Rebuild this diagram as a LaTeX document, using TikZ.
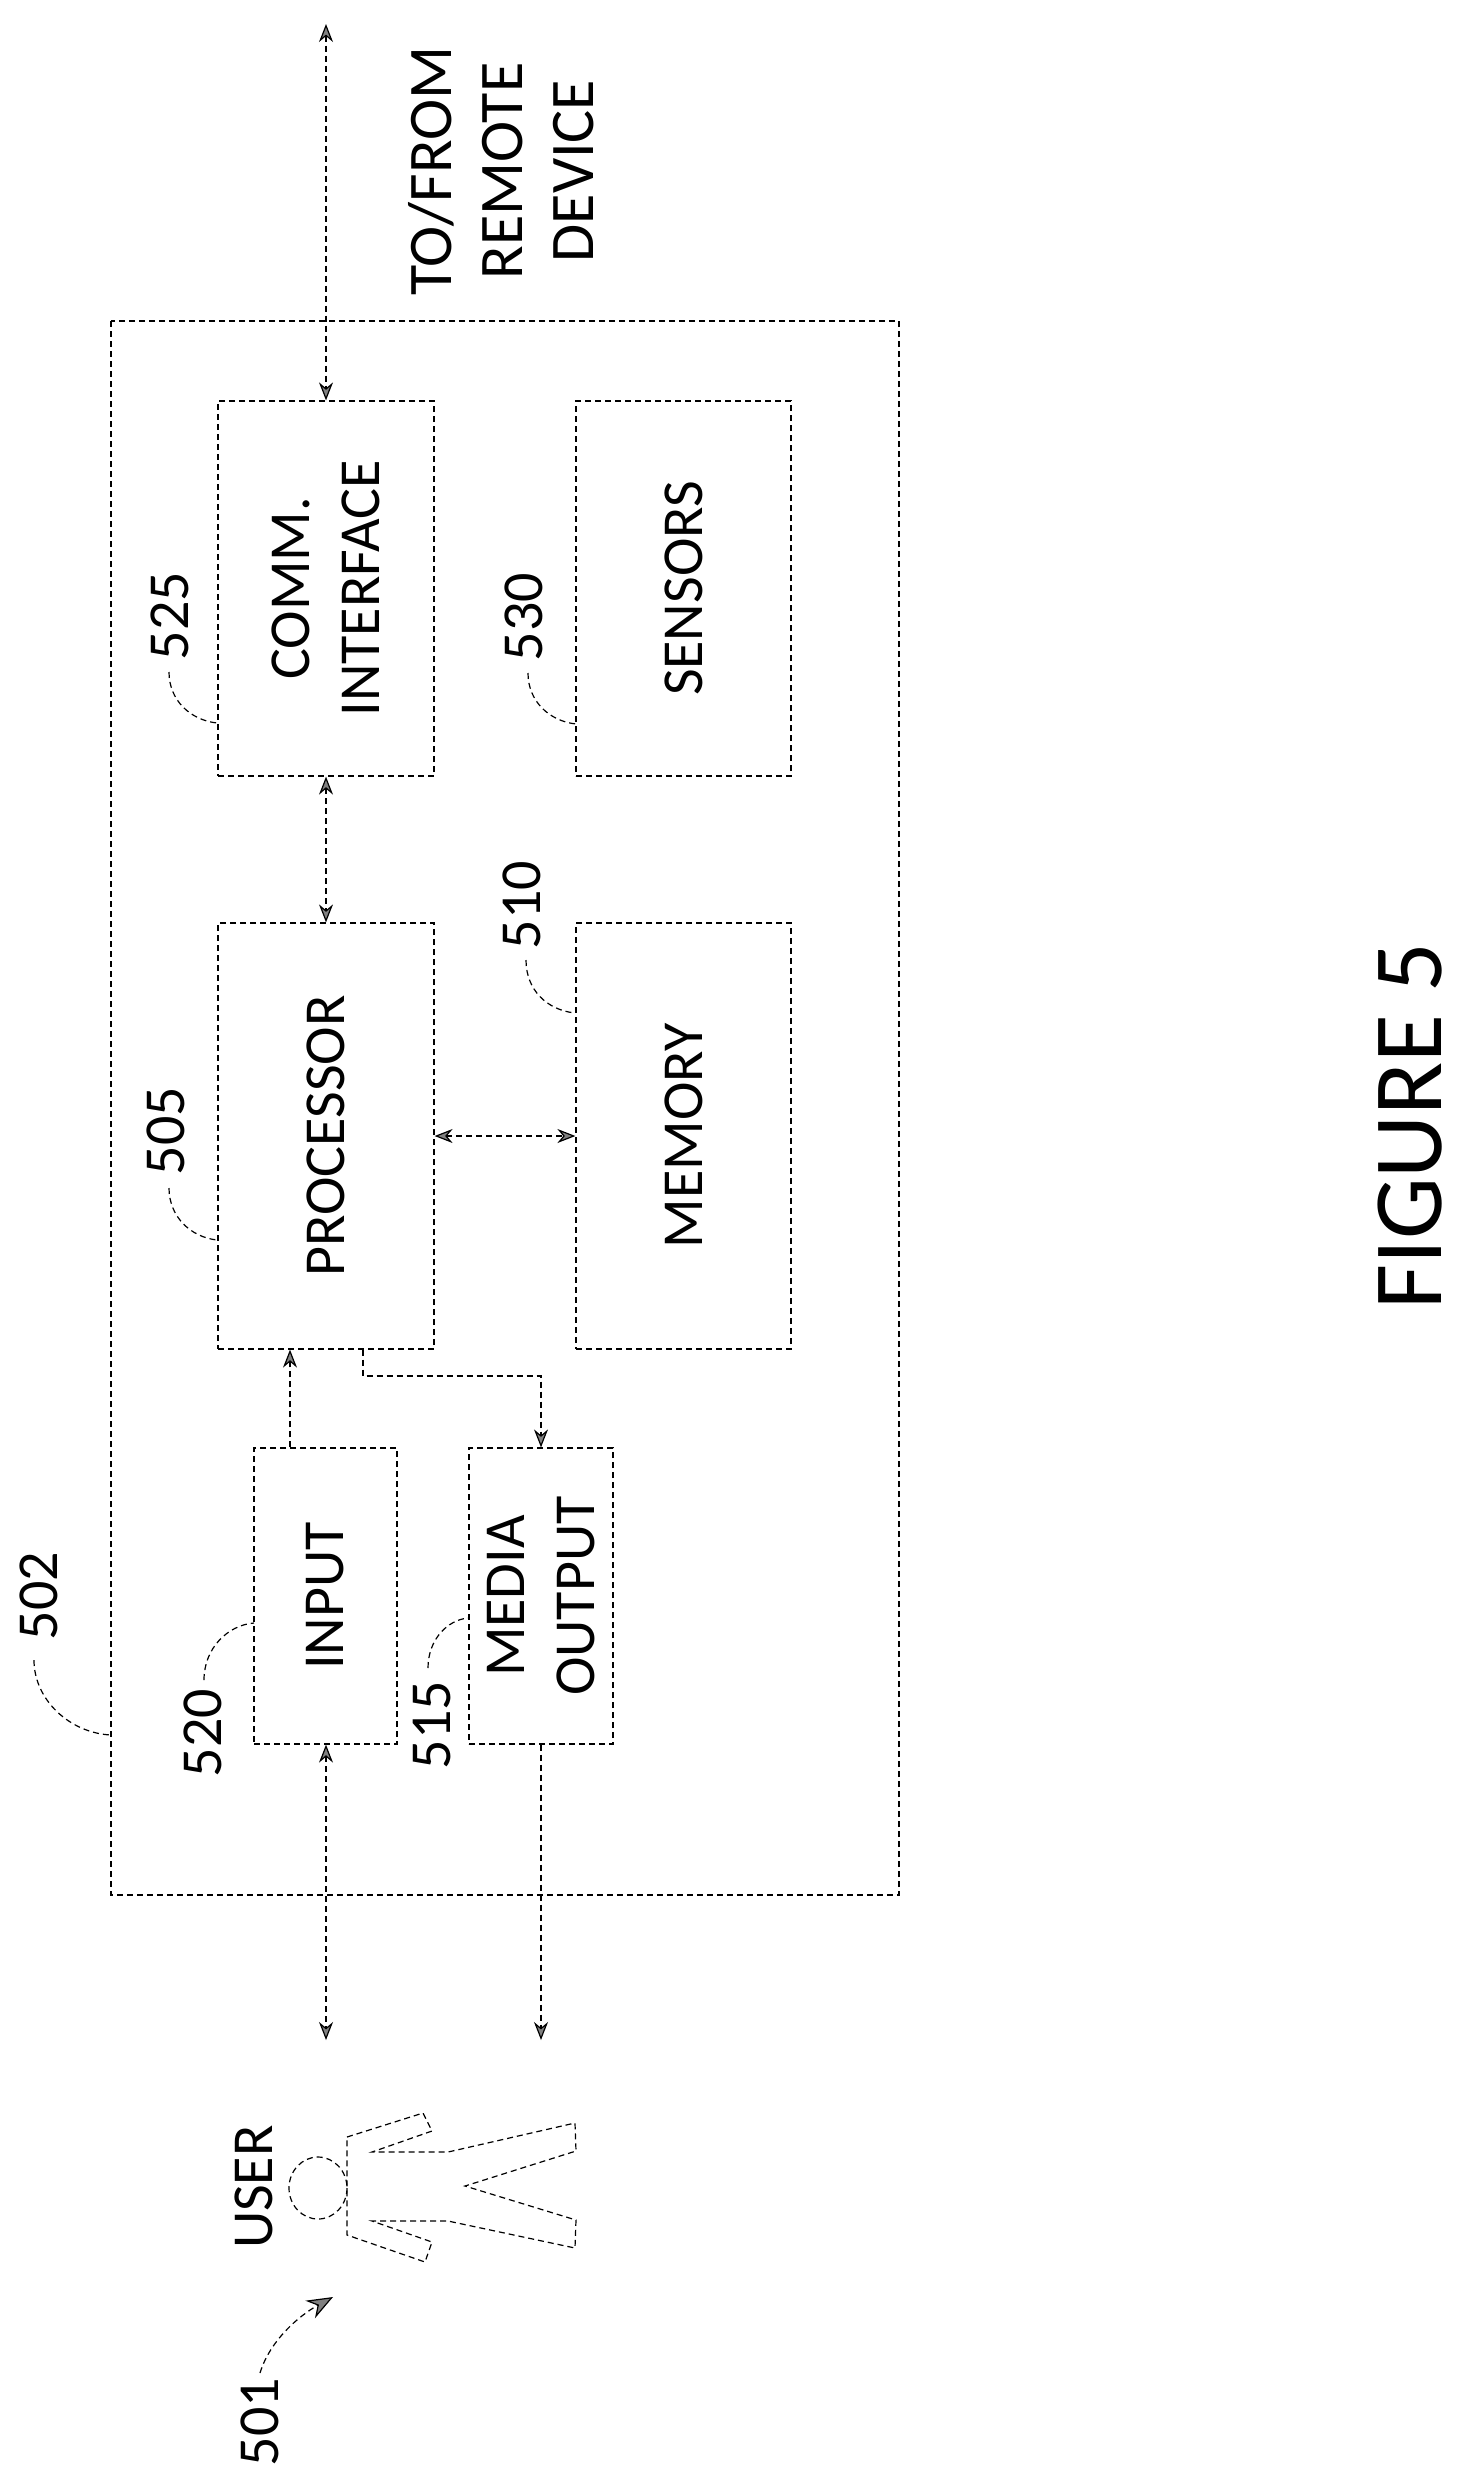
\documentclass[tikz,border=0pt]{standalone}
\usepackage{fontspec}
\setmainfont{Carlito}
\usetikzlibrary{arrows.meta}
\begin{document}
\begin{tikzpicture}[x=0.5pt,y=-0.5pt,
  ln/.style={densely dashed,line width=0.6pt},
  bx/.style={ln,draw,inner sep=0},
  tip/.style={-{Stealth[length=9pt,width=7pt,fill=gray]}},
  bigtip/.style={-{Stealth[length=13pt,width=10pt,fill=gray]}},
  dtip/.style={{Stealth[length=9pt,width=7pt,fill=gray]}-{Stealth[length=9pt,width=7pt,fill=gray]}},
  lab/.style={font=\fontsize{29}{35}\selectfont,rotate=90,align=center},
  num/.style={font=\fontsize{29}{35}\selectfont,rotate=90}]
\useasboundingbox (0,0) rectangle (1462,2484);
\draw[ln] (111,321) rectangle (899,1895);
\node[bx,minimum width=108pt,minimum height=187.5pt] (comm) at (326,588.5) {};
\node[bx,minimum width=107.5pt,minimum height=187.5pt] (sens) at (683.5,588.5) {};
\node[bx,minimum width=108pt,minimum height=213pt] (proc) at (326,1136) {};
\node[bx,minimum width=107.5pt,minimum height=213pt] (mem) at (683.5,1136) {};
\node[bx,minimum width=71.5pt,minimum height=148pt] (inp) at (325.5,1596) {};
\node[bx,minimum width=72pt,minimum height=148pt] (med) at (541,1596) {};
\node[lab] at (comm) {COMM.\\INTERFACE};
\node[lab] at (sens) {SENSORS};
\node[lab] at (proc) {PROCESSOR};
\node[lab] at (mem) {MEMORY};
\node[lab] at (inp) {INPUT};
\node[lab] at (med) {MEDIA\\OUTPUT};
\node[lab,font=\fontsize{31}{35.5}\selectfont] (rem) at (501,171) {TO/FROM\\REMOTE\\DEVICE};
\node[rotate=90,font=\fontsize{49}{55}\selectfont] (fig) at (1410,1126) {FIGURE 5};
% numbers
\node[num] (n525) at (170,616) {525};
\node[num] (n530) at (524,617) {530};
\node[num] (n505) at (166,1131) {505};
\node[num] (n510) at (522,905) {510};
\node[num] (n502) at (39,1596) {502};
\node[num] (n520) at (203,1733) {520};
\node[num] (n515) at (432,1725) {515};
\node[num] (n501) at (260,2422) {501};
\draw[ln] (169,672) .. controls (169,700) and (190,720) .. (217,723);
\draw[ln] (528,673) .. controls (528,701) and (549,721) .. (576,724);
\draw[ln] (169,1188) .. controls (169,1216) and (190,1237) .. (217,1240);
\draw[ln] (526,960) .. controls (526,990) and (547,1010) .. (575,1013);
\draw[ln] (34,1660) .. controls (34,1700) and (70,1733) .. (111,1735);
\draw[ln] (204,1680) .. controls (204,1648) and (228,1625) .. (254,1623);
\draw[ln] (428,1668) .. controls (428,1640) and (447,1620) .. (468,1618);
\draw[ln,bigtip] (260,2373) .. controls (270,2340) and (300,2315) .. (333,2297);
% connectors
\coordinate (rt) at (326,24);
\draw[ln,dtip] (rt) -- (comm.north);
\draw[ln,dtip] (comm.south) -- (proc.north);
\draw[ln,dtip] (proc.east) -- (mem.west);
\draw[ln,tip] (inp.north -| 290,0) -- (proc.south -| 290,0);
\draw[ln,tip] (proc.south -| 363,0) -- (363,1376) -- (541,1376) -- (med.north);
\coordinate (ui) at (326,2040);
\coordinate (uo) at (541,2040);
\draw[ln,dtip] (inp.south -| 326,0) -- (ui);
\draw[ln,tip] (med.south) -- (uo);
% user
\node[rotate=90,font=\fontsize{29}{35}\selectfont] (usr) at (254,2187) {USER};
\draw[ln] (318,2188) ellipse (29 and 31);
\draw[ln] (347,2137) -- (423,2113) -- (432,2131) -- (372,2152) -- (448,2152) -- (575,2123) -- (576,2151) -- (465,2186) -- (576,2220) -- (575,2248) -- (448,2221) -- (372,2221) -- (432,2242) -- (425,2262) -- (347,2235) -- cycle;
\end{tikzpicture}
\end{document}
